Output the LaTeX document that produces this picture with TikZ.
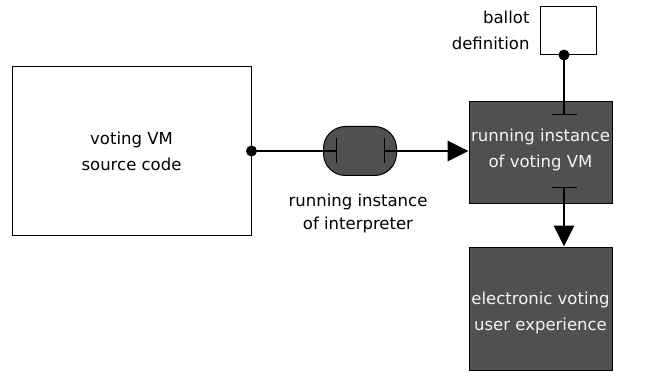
\documentclass[tikz,border=0pt]{standalone}
\usepackage{fontspec}
\setmainfont{DejaVu Sans}
\usetikzlibrary{arrows.meta}
\definecolor{dark}{HTML}{505050}
\definecolor{pale}{HTML}{F4F4F4}
\begin{document}
\begin{tikzpicture}[x=1pt,y=-1pt,
  lbl/.style={font=\fontsize{16.5}{26}\selectfont, align=center},
  box/.style={draw=black, line width=1pt, inner sep=0pt},
  darkbox/.style={box, fill=dark},
  conn/.style={line width=2.8pt}]
\useasboundingbox (0,0) rectangle (651,377);
% boxes
\node[box, fill=white, minimum width=239pt, minimum height=168pt] (src) at (131.5,151) {};
\node[darkbox, rounded corners=22pt, minimum width=73pt, minimum height=49pt] (interp) at (360,151) {};
\node[darkbox, minimum width=143pt, minimum height=102pt] (vm) at (540.5,153) {};
\node[darkbox, minimum width=143pt, minimum height=123pt] (ux) at (540.5,308.5) {};
\node[box, fill=white, minimum width=56pt, minimum height=48pt] (ballot) at (568,31) {};
% texts
\node[lbl] (srctext) at (131.5,151) {voting VM\\source code};
\node[lbl, font=\fontsize{16.5}{23}\selectfont] (interplbl) at (358,213) {running instance\\of interpreter};
\node[lbl, text=pale] (vmtext) at (540.5,149.5) {running instance\\of voting VM};
\node[lbl, text=pale] (uxtext) at (540.5,313) {electronic voting\\user experience};
\node[lbl, align=right, anchor=east] (ballotlbl) at (533,30) {ballot\\definition};
% coordinates
\coordinate (ti1) at (337,151);
\coordinate (ti2) at (384,151);
\coordinate (bdot) at (564,55);
\coordinate (bt) at (564,115);
\coordinate (vt) at (564,187);
% connectors
\draw[conn, -{Bar[width=25pt,line width=1.4pt]}] (src.east) -- (ti1);
\draw[conn, {Bar[width=25pt,line width=1.4pt]}-{Triangle[length=21pt,width=20pt]}] (ti2) -- (vm.west |- ti2);
\fill (src.east) circle (5.5pt);
\draw[conn, -{Bar[width=25pt,line width=1.4pt]}] (bdot) -- (bt);
\fill (bdot) circle (5.5pt);
\draw[conn, {Bar[width=25pt,line width=1.4pt]}-{Triangle[length=21pt,width=20pt]}] (vt) -- (bdot |- ux.north);
\end{tikzpicture}
\end{document}
